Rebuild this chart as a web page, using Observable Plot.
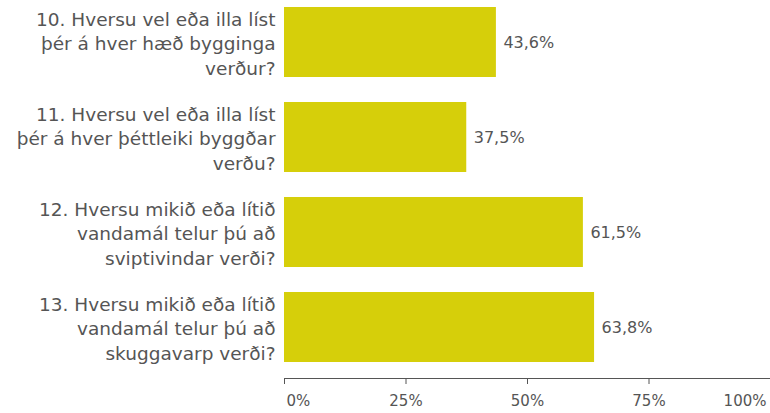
<!DOCTYPE html>
<html>
<head>
<meta charset="utf-8">
<script src="https://cdn.jsdelivr.net/npm/d3@7"></script>
<script src="https://cdn.jsdelivr.net/npm/@observablehq/plot@0.6"></script>
<style>
  html, body { margin: 0; padding: 0; background: #fff; }
  svg { display: block; }
</style>
</head>
<body>
<div id="chart"></div>
<script>
const questions = [
  "10. Hversu vel eða illa líst\nþér á hver hæð bygginga\nverður?",
  "11. Hversu vel eða illa líst\nþér á hver þéttleiki byggðar\nverðu?",
  "12. Hversu mikið eða lítið\nvandamál telur þú að\nsviptivindar verði?",
  "13. Hversu mikið eða lítið\nvandamál telur þú að\nskuggavarp verði?"
];
const values = [43.6, 37.5, 61.5, 63.8];
const valueLabels = ["43,6%", "37,5%", "61,5%", "63,8%"];
const tickValues = [0, 25, 50, 75, 100];
const tickLabels = ["0%", "25%", "50%", "75%", "100%"];

const data = questions.map((q, i) => ({q, v: values[i], label: valueLabels[i]}));
const ticks = tickValues.map((t, i) => ({t, label: tickLabels[i]}));

const textColor = "#555555";
const axisColor = "#555555";
const font = "DejaVu Sans";

// axis baseline along the bottom of the plot frame, placed through the x scale
function axisLine(index, scales, values, dims) {
  const y = dims.height - dims.marginBottom + 0.5;
  const line = d3.create("svg:line")
    .attr("x1", scales.x(tickValues[0]))
    .attr("x2", scales.x(tickValues[tickValues.length - 1]))
    .attr("y1", y)
    .attr("y2", y)
    .attr("stroke", axisColor)
    .attr("stroke-width", 1);
  return line.node();
}

const chart = Plot.plot({
  width: 770,
  height: 413,
  marginLeft: 284,
  marginRight: 0,
  marginTop: 7,
  marginBottom: 35,
  style: {fontFamily: font, color: textColor, background: "#fff"},
  x: {domain: [0, 100], axis: null},
  y: {domain: questions, axis: null, paddingInner: 0.26, paddingOuter: 0.077, align: 0},
  marks: [
    Plot.barX(data, {x: "v", y: "q", fill: "#d6cf0a"}),
    Plot.text(data, {x: "v", y: "q", text: "label", textAnchor: "start", dx: 7, fill: textColor, fontSize: 16}),
    Plot.text(data, {x: 0, y: "q", text: "q", textAnchor: "end", dx: -9, fill: textColor, fontSize: 18.5, lineHeight: 1.32}),
    axisLine,
    Plot.axisX({ticks: tickValues, tickFormat: () => "", tickSize: 6, stroke: axisColor}),
    Plot.text(ticks.filter((d, i) => i === 0), {x: "t", text: "label", frameAnchor: "bottom", dy: 27, dx: 2, textAnchor: "start", fill: textColor, fontSize: 15}),
    Plot.text(ticks.filter((d, i) => i > 0 && i < ticks.length - 1), {x: "t", text: "label", frameAnchor: "bottom", dy: 27, textAnchor: "middle", fill: textColor, fontSize: 15}),
    Plot.text(ticks.filter((d, i) => i === ticks.length - 1), {x: "t", text: "label", frameAnchor: "bottom", dy: 27, dx: -4, textAnchor: "end", fill: textColor, fontSize: 15})
  ]
});
document.getElementById("chart").append(chart);
</script>
</body>
</html>
